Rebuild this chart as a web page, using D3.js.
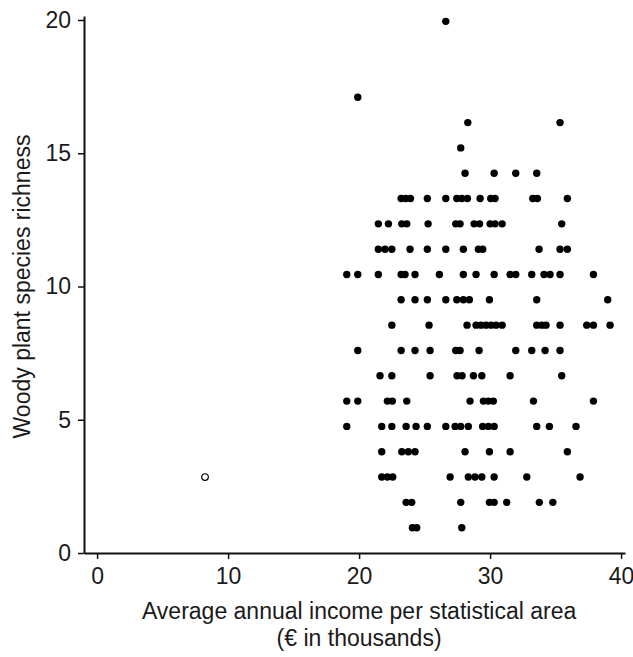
<!DOCTYPE html>
<html>
<head>
<meta charset="utf-8">
<script src="https://cdn.jsdelivr.net/npm/d3@7"></script>
<style>
  html, body { margin: 0; padding: 0; background: #fff; }
  svg { display: block; }
  text { font-family: "Liberation Sans", Arial, sans-serif; fill: #1a1a1a; }
</style>
</head>
<body>
<svg id="chart" width="633" height="657"></svg>
<script>
// ---- Data ----
const xTicks = [0, 10, 20, 30, 40];
const yTicks = [0, 5, 10, 15, 20];
const xTitle1 = "Average annual income per statistical area";
const xTitle2 = "(€ in thousands)";
const yTitle = "Woody plant species richness";

// richness levels (y) and the incomes (x, € thousands) of points on each level
const richnessLevels = [19.95, 17.1, 16.15, 15.2, 14.25, 13.3, 12.35, 11.4, 10.45, 9.5,
                        8.55, 7.6, 6.65, 5.7, 4.75, 3.8, 2.85, 1.9, 0.95];
const incomeByLevel = [
  [26.62],
  [19.90],
  [28.30, 35.34],
  [27.76],
  [28.09, 30.31, 31.96, 33.56],
  [23.21, 23.56, 23.92, 25.21, 26.62, 27.46, 27.84, 28.27, 29.24, 30.05, 30.38, 33.26, 33.61, 35.90],
  [21.47, 22.24, 23.26, 23.64, 25.27, 27.38, 27.71, 28.78, 29.20, 30.00, 30.38, 30.92, 35.47],
  [21.47, 21.98, 22.50, 23.89, 25.21, 26.62, 27.96, 29.11, 29.44, 33.74, 35.34, 35.90],
  [19.06, 19.90, 21.47, 23.21, 23.51, 24.27, 26.13, 27.96, 28.93, 30.31, 31.53, 31.96, 33.18, 34.12, 34.58, 35.34, 37.89],
  [23.21, 24.27, 25.21, 26.62, 27.46, 27.96, 28.42, 29.95, 33.56, 38.98],
  [22.50, 25.34, 28.24, 28.93, 29.31, 29.69, 30.08, 30.46, 30.92, 33.56, 33.95, 34.27, 35.34, 37.38, 37.89, 39.16],
  [19.90, 23.21, 24.27, 25.42, 27.38, 27.71, 29.16, 31.96, 33.18, 34.20, 35.34],
  [21.60, 22.50, 25.42, 27.48, 27.86, 28.73, 29.37, 31.53, 35.47],
  [19.06, 19.90, 22.16, 22.54, 23.64, 28.47, 29.49, 29.87, 30.25, 33.31, 37.89],
  [19.06, 21.73, 22.50, 23.59, 24.35, 25.21, 26.62, 27.33, 27.76, 28.34, 29.43, 29.87, 30.31, 33.56, 34.53, 36.56],
  [21.73, 23.26, 23.76, 24.27, 28.09, 29.95, 31.53, 35.90],
  [21.73, 22.16, 22.57, 26.95, 28.34, 28.85, 29.37, 30.31, 32.80, 36.87],
  [23.59, 24.02, 27.76, 29.95, 30.31, 31.27, 33.76, 34.79],
  [24.07, 24.40, 27.84]
];
// the single open-circle (outlier) area
const outlierIncome = [8.24];
const outlierRichness = [2.85];

// ---- Build ----
const points = [];
richnessLevels.forEach((r, i) => incomeByLevel[i].forEach(v => points.push({x: v, y: r})));
const outliers = outlierIncome.map((v, i) => ({x: v, y: outlierRichness[i]}));

const svg = d3.select("#chart");
const mLeft = 84, mRight = 625, mTop = 16, mBottom = 553;
const fs = 23;

const x = d3.scaleLinear().domain([-1, 40.3]).range([mLeft, mRight]);
const y = d3.scaleLinear().domain([0, 20.15]).range([mBottom, mTop]);

const xAxis = svg.append("g")
  .attr("transform", `translate(0,${mBottom})`)
  .call(d3.axisBottom(x).tickValues(xTicks).tickSize(6).tickSizeOuter(0).tickPadding(9));
const yAxis = svg.append("g")
  .attr("transform", `translate(${mLeft},0)`)
  .call(d3.axisLeft(y).tickValues(yTicks).tickSize(6).tickSizeOuter(0).tickPadding(7));

[xAxis, yAxis].forEach(g => {
  g.select(".domain").attr("stroke", "#111").attr("stroke-width", 2);
  g.selectAll(".tick line").attr("stroke", "#111").attr("stroke-width", 1.5);
  g.selectAll(".tick text").attr("font-size", fs).attr("fill", "#1a1a1a")
    .attr("font-family", "Liberation Sans, Arial, sans-serif");
});

svg.append("text").attr("x", (x(0) + x(40)) / 2).attr("y", 619)
  .attr("text-anchor", "middle").attr("font-size", fs).text(xTitle1);
svg.append("text").attr("x", (x(0) + x(40)) / 2).attr("y", 646)
  .attr("text-anchor", "middle").attr("font-size", fs).text(xTitle2);
svg.append("text")
  .attr("transform", `translate(30,${(y(0) + y(20)) / 2}) rotate(-90)`)
  .attr("text-anchor", "middle").attr("font-size", fs).text(yTitle);

svg.append("g").selectAll("circle").data(points).join("circle")
  .attr("cx", d => x(d.x)).attr("cy", d => y(d.y)).attr("r", 3.7)
  .attr("fill", "#000");

svg.append("g").selectAll("circle").data(outliers).join("circle")
  .attr("cx", d => x(d.x)).attr("cy", d => y(d.y)).attr("r", 3.3)
  .attr("fill", "#fff").attr("stroke", "#000").attr("stroke-width", 1.2);
</script>
</body>
</html>
